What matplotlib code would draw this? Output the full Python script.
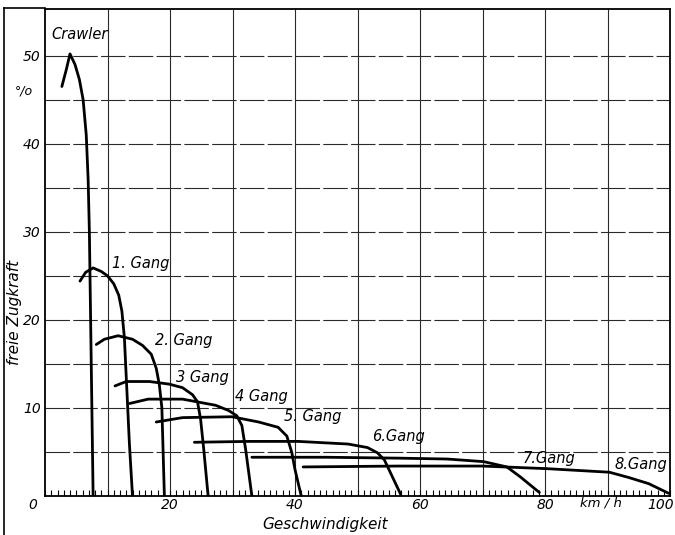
import numpy as np
import matplotlib
matplotlib.use("Agg")
import matplotlib.pyplot as plt
from matplotlib.lines import Line2D

plt.rcParams['font.family'] = ['DejaVu Sans']

# Zugkraftkurven je Gang: Geschwindigkeit (km/h) und freie Zugkraft (%)
crawler_v = [2.7, 3.4, 4.0, 4.8, 5.5, 6.1, 6.6, 6.9, 7.1, 7.3, 7.5, 7.7]
crawler_f = [46.5, 48.4, 50.2, 49.0, 47.3, 45.0, 41.0, 36.0, 30.0, 20.0, 10.0, 0.0]

gang1_v = [5.6, 6.5, 7.7, 9.0, 10.0, 11.0, 11.8, 12.3, 12.7, 13.1, 13.5, 14.0]
gang1_f = [24.4, 25.4, 25.9, 25.5, 25.0, 24.1, 22.8, 21.0, 18.0, 12.0, 6.0, 0.0]

gang2_v = [8.2, 9.5, 11.7, 14.0, 15.6, 17.0, 17.8, 18.3, 18.7, 18.9, 19.1]
gang2_f = [17.2, 17.8, 18.2, 17.8, 17.1, 16.1, 14.5, 12.6, 10.0, 5.0, 0.0]

gang3_v = [11.2, 13.0, 16.7, 19.9, 22.0, 23.6, 24.4, 24.9, 25.4, 26.1]
gang3_f = [12.5, 13.0, 13.0, 12.7, 12.3, 11.5, 10.7, 8.7, 5.3, 0.0]

gang4_v = [13.5, 16.5, 22.0, 27.3, 29.4, 30.7, 31.5, 32.1, 33.1]
gang4_f = [10.5, 11.0, 11.0, 10.3, 9.7, 9.1, 8.0, 5.3, 0.0]

gang5_v = [17.8, 22.0, 29.9, 34.2, 37.3, 38.7, 39.5, 40.0, 41.0]
gang5_f = [8.4, 8.9, 9.0, 8.4, 7.8, 6.8, 4.9, 3.0, 0.0]

gang6_v = [23.9, 32.6, 40.5, 48.5, 51.6, 53.2, 54.3, 55.3, 56.9]
gang6_f = [6.1, 6.2, 6.2, 5.9, 5.5, 4.9, 4.1, 2.6, 0.2]

gang7_v = [33.1, 45.0, 56.4, 64.3, 70.2, 73.9, 76.0, 79.1]
gang7_f = [4.4, 4.4, 4.3, 4.2, 3.9, 3.3, 2.2, 0.4]

gang8_v = [41.3, 56.4, 70.0, 80.4, 90.3, 93.4, 96.6, 99.8]
gang8_f = [3.3, 3.4, 3.4, 3.1, 2.7, 2.1, 1.4, 0.3]

curves = [
    (crawler_v, crawler_f, "Crawler", 5.6, 52.4),
    (gang1_v, gang1_f, "1. Gang", 15.3, 26.4),
    (gang2_v, gang2_f, "2. Gang", 22.2, 17.7),
    (gang3_v, gang3_f, "3 Gang", 25.2, 13.4),
    (gang4_v, gang4_f, "4 Gang", 34.6, 11.3),
    (gang5_v, gang5_f, "5. Gang", 42.8, 9.0),
    (gang6_v, gang6_f, "6.Gang", 56.6, 6.8),
    (gang7_v, gang7_f, "7.Gang", 80.6, 4.3),
    (gang8_v, gang8_f, "8.Gang", 95.3, 3.6),
]

x_ticks = [20, 40, 60, 80, 100]
y_ticks = [10, 20, 30, 40, 50]

fig = plt.figure(figsize=(6.75, 5.35), dpi=100)
ax = fig.add_axes([45 / 675, 39 / 535, 625 / 675, 487 / 535])
ax.set_xlim(0, 100)
ax.set_ylim(0, 55.3)

# Raster: senkrecht alle 10 km/h, waagerecht alle 5 %
for gx in range(10, 100, 10):
    ax.axvline(gx, color='#2a2a2a', lw=0.8, zorder=1)
for gy in range(5, 55, 5):
    ax.axhline(gy, color='#2a2a2a', lw=0.8, dashes=(22, 3), zorder=1)

for v, f, name, tx, ty in curves:
    ax.plot(v, f, color='black', lw=2.0, solid_capstyle='round', zorder=3)
    ax.text(tx, ty, name, fontsize=10.5, fontstyle='italic', ha='center', va='center')

for sp in ax.spines.values():
    sp.set_linewidth(1.3)

ax.set_xticks(np.arange(0, 101, 1), minor=True)
ax.set_xticks([])
ax.set_yticks(y_ticks)
ax.set_yticklabels([str(t) for t in y_ticks], fontsize=10, fontstyle='italic')
ax.tick_params(axis='y', length=0, pad=3)
ax.tick_params(axis='x', which='minor', direction='in', length=4, width=0.8)

for t in x_ticks[:-1]:
    ax.text(t, -1.0, str(t), fontsize=10, fontstyle='italic', ha='center', va='center')
ax.text(100.6, -1.0, "100", fontsize=10, fontstyle='italic', ha='right', va='center')
ax.text(-1.9, -1.0, "0", fontsize=10, fontstyle='italic', ha='center', va='center')
ax.text(89.0, -0.8, "km / h", fontsize=9.5, fontstyle='italic', ha='center', va='center')
ax.text(-3.4, 46.0, "°/o", fontsize=9, fontstyle='italic', ha='center', va='center')

fig.text(15 / 675, 1 - 312 / 535, "freie Zugkraft", rotation=90, fontsize=11,
         fontstyle='italic', ha='center', va='center')
fig.text(325 / 675, 1 - 525 / 535, "Geschwindigkeit", fontsize=11,
         fontstyle='italic', ha='center', va='center')

# Blattrand links und oben
fig.add_artist(Line2D([4 / 675, 4 / 675], [0, 1 - 8 / 535], color='black', lw=1.2))
fig.add_artist(Line2D([4 / 675, 45 / 675], [1 - 8 / 535, 1 - 8 / 535], color='black', lw=1.2))

fig.savefig("out.png", dpi=100)
